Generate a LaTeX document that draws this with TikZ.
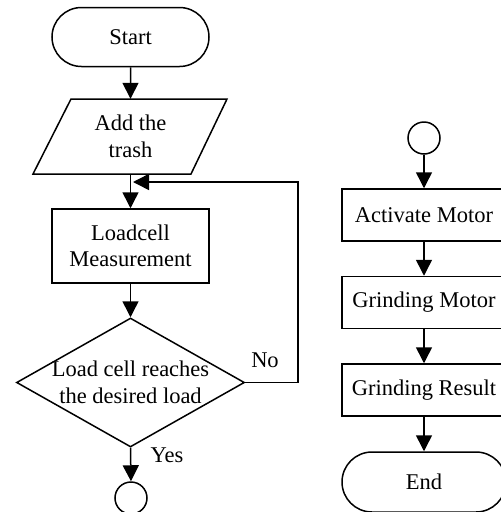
\documentclass[tikz,border=0pt]{standalone}
\usepackage{fontspec}
\setmainfont{Liberation Serif}
\usetikzlibrary{arrows.meta,shapes.misc,shapes.geometric}
\begin{document}
\begin{tikzpicture}[x=1pt,y=-1pt,
  font=\fontsize{22.5}{26.5}\selectfont,
  ln/.style={line width=1.5pt},
  arr/.style={ln,-{Triangle[length=16pt,width=16pt]}},
  term/.style={ln,draw,rounded rectangle,minimum width=157pt,minimum height=59pt,inner sep=0pt},
  proc/.style={ln,draw,rectangle,minimum width=157pt,minimum height=74pt,inner sep=0pt,align=center},
  rproc/.style={ln,draw,rectangle,minimum width=164pt,minimum height=52pt,inner sep=0pt},
  conn/.style={ln,draw,circle,minimum size=32pt,inner sep=0pt},
  lbl/.style={inner sep=0pt}]
\useasboundingbox (0,0) rectangle (501,512);
\clip (0,0) rectangle (501,512);
% left column
\node[term] (start) at (130.5,37) {Start};
\node[minimum width=157pt,minimum height=75pt,inner sep=0pt,align=center] (add) at (130.5,136.5) {Add the\\trash};
\draw[ln] (71,99) -- (227,99) -- (191,174) -- (33,174) -- cycle;
\node[proc] (load) at (130.5,246) {Loadcell\\Measurement};
\node[ln,draw,diamond,minimum width=228pt,minimum height=129pt,inner sep=0pt] (dec) at (130.5,382.5) {};
\node[align=center,inner sep=0pt] (dectext) at (dec.center) {Load cell reaches\\the desired load};
\node[conn] (c1) at (131,498) {};
\node[lbl] (no) at (265,360) {No};
\node[lbl] (yes) at (167,455) {Yes};
\coordinate (loopend) at (133,182);
\draw[arr] (start) -- (add.north);
\draw[arr] (add.south) -- (load.north);
\draw[arr] (load.south) -- (dec.north);
\draw[arr] (dec.south) -- (c1.north);
\draw[arr] (dec.east) -- (298,382.5) -- (298,182) -- (loopend);
% right column
\node[conn] (c2) at (424,138) {};
\node[rproc] (act) at (424,215) {Activate Motor};
\node[rproc] (grm) at (424,302.5) {Grinding Motor};
\node[rproc] (grr) at (424,390) {Grinding Result};
\node[term,minimum width=164pt,minimum height=60pt] (end) at (424,482) {End};
\draw[arr] (c2) -- (act);
\draw[arr] (act) -- (grm);
\draw[arr] (grm) -- (grr);
\draw[arr] (grr) -- (end);
\end{tikzpicture}
\end{document}
